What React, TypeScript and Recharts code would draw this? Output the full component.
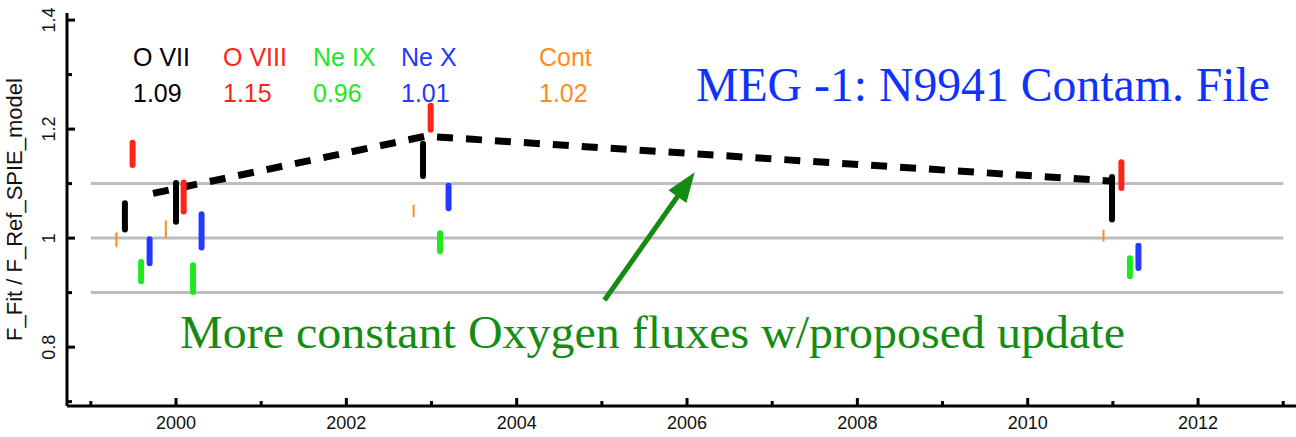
import { ComposedChart, Line, XAxis, YAxis, ReferenceLine } from 'recharts';

// axis ticks
const xTicks = [1999, 2000, 2001, 2002, 2003, 2004, 2005, 2006, 2007, 2008, 2009, 2010, 2011, 2012, 2013];
const yTicks = [0.7, 0.8, 0.9, 1.0, 1.1, 1.2, 1.3, 1.4];
const gridLevels = [0.9, 1.0, 1.1];

// measured ranges (year, low, high) per line
const oviiYear = [1999.4, 2000.0, 2002.9, 2010.99];
const oviiLo = [1.016, 1.030, 1.114, 1.034];
const oviiHi = [1.064, 1.101, 1.173, 1.112];

const oviiiYear = [1999.49, 2000.09, 2002.99, 2011.1];
const oviiiLo = [1.134, 1.049, 1.199, 1.092];
const oviiiHi = [1.175, 1.102, 1.243, 1.139];

const neixYear = [1999.59, 2000.2, 2003.1, 2011.2];
const neixLo = [0.921, 0.901, 0.976, 0.930];
const neixHi = [0.956, 0.950, 1.009, 0.963];

const nexYear = [1999.69, 2000.3, 2003.2, 2011.3];
const nexLo = [0.954, 0.983, 1.055, 0.945];
const nexHi = [0.998, 1.044, 1.096, 0.986];

const contYear = [1999.3, 1999.88, 2002.79, 2010.89];
const contLo = [0.985, 1.002, 1.040, 0.995];
const contHi = [1.009, 1.031, 1.060, 1.014];

// dashed trend through the O VII points
const trendYear = [1999.73, 2002.93, 2010.96];
const trendValue = [1.082, 1.187, 1.105];

// annotation arrow (tail -> tip)
const arrowYear = [2005.03, 2006.09];
const arrowValue = [0.886, 1.121];

const legendNames = ['O VII', 'O VIII', 'Ne IX', 'Ne X', 'Cont'];
const legendValues = ['1.09', '1.15', '0.96', '1.01', '1.02'];
const legendColors = ['#000000', '#ff2418', '#1fe81f', '#2438ff', '#ff8c1a'];
const legendX = [133, 223, 313, 401, 539];

const series = [
  { name: 'ovii', year: oviiYear, lo: oviiLo, hi: oviiHi, color: '#000000', width: 6 },
  { name: 'oviii', year: oviiiYear, lo: oviiiLo, hi: oviiiHi, color: '#ff2418', width: 6 },
  { name: 'neix', year: neixYear, lo: neixLo, hi: neixHi, color: '#1fe81f', width: 6 },
  { name: 'nex', year: nexYear, lo: nexLo, hi: nexHi, color: '#2438ff', width: 6 },
  { name: 'cont', year: contYear, lo: contLo, hi: contHi, color: '#ff8c1a', width: 2 },
];

const trend = trendYear.map((x, i) => ({ x, v: trendValue[i] }));

const sans = 'Liberation Sans, Arial, Helvetica, sans-serif';
const serif = 'Liberation Serif, Times New Roman, serif';

const XTick = (props: any) => {
  const { x, y, payload, top } = props;
  const major = Math.round(payload.value) % 2 === 0;
  const len = major ? 8 : 5;
  return (
    <g>
      <line x1={x} x2={x} y1={y} y2={top ? y + len : y - len} stroke="#000" strokeWidth={3} />
      {!top && major && (
        <text x={x} y={y + 23} textAnchor="middle" fontSize={18} fontFamily={sans} fill="#111">
          {payload.value}
        </text>
      )}
    </g>
  );
};

const YTick = (props: any) => {
  const { x, y, payload } = props;
  const n = Math.round(payload.value * 10);
  const major = n % 2 === 0;
  const len = major ? 8 : 5;
  const label = n === 10 ? '1' : (n / 10).toFixed(1);
  const lx = x - 12;
  return (
    <g>
      <line x1={x} x2={x + len} y1={y} y2={y} stroke="#000" strokeWidth={3} />
      {major && (
        <text x={lx} y={y} transform={`rotate(-90, ${lx}, ${y})`} textAnchor="middle" fontSize={18} fontFamily={sans} fill="#111">
          {label}
        </text>
      )}
    </g>
  );
};

const rangeShape = (color: string, width: number) => (p: any) => (
  <line x1={p.x1} y1={p.y1} x2={p.x2} y2={p.y2} stroke={color} strokeWidth={width} strokeLinecap="round" />
);

const arrowShape = (p: any) => {
  const { x1, y1, x2, y2 } = p;
  const dx = x2 - x1;
  const dy = y2 - y1;
  const d = Math.sqrt(dx * dx + dy * dy);
  const ux = dx / d;
  const uy = dy / d;
  const head = 30;
  const half = 11;
  const bx = x2 - ux * head;
  const by = y2 - uy * head;
  const pts = `${x2},${y2} ${bx - uy * half},${by + ux * half} ${bx + uy * half},${by - ux * half}`;
  return (
    <g>
      <line x1={x1} y1={y1} x2={bx + ux * 2} y2={by + uy * 2} stroke="#148c14" strokeWidth={5} />
      <polygon points={pts} fill="#148c14" />
    </g>
  );
};

export default function App() {
  return (
    <div style={{ position: 'absolute', left: 0, top: 0, width: 1296, height: 437, background: '#fff' }}>
      <ComposedChart width={1296} height={437} data={trend} margin={{ top: 13, right: 0, bottom: 0, left: 0 }}>
        <XAxis
          dataKey="x"
          type="number"
          domain={[1998.72, 2013.15]}
          allowDataOverflow
          ticks={xTicks}
          interval={0}
          height={31}
          tickSize={0}
          tickMargin={0}
          stroke="#000"
          strokeWidth={3}
          tick={<XTick />}
        />
        <XAxis
          xAxisId="top"
          orientation="top"
          dataKey="x"
          type="number"
          domain={[1998.72, 2013.15]}
          allowDataOverflow
          ticks={xTicks}
          interval={0}
          height={0}
          tickSize={0}
          tickMargin={0}
          stroke="#000"
          strokeWidth={3}
          tick={<XTick top />}
        />
        <YAxis
          type="number"
          domain={[0.692, 1.413]}
          allowDataOverflow
          ticks={yTicks}
          interval={0}
          width={67}
          tickSize={0}
          tickMargin={0}
          stroke="#000"
          strokeWidth={3}
          tick={<YTick />}
          label={{
            value: 'F_Fit / F_Ref_SPIE_model',
            angle: -90,
            position: 'insideLeft',
            dx: 9,
            style: { fontSize: 22, fontFamily: sans, fill: '#111', textAnchor: 'middle' },
          }}
        />
        {gridLevels.map((g) => (
          <ReferenceLine
            key={`g${g}`}
            segment={[{ x: 1999, y: g }, { x: 2013, y: g }]}
            stroke="#bdbdbd"
            strokeWidth={3}
            ifOverflow="visible"
          />
        ))}
        <Line
          dataKey="v"
          stroke="#000"
          strokeWidth={7}
          strokeDasharray="16 13"
          strokeLinejoin="miter"
          dot={false}
          activeDot={false}
          isAnimationActive={false}
        />
        {series.flatMap((s) =>
          s.year.map((yr, i) => (
            <ReferenceLine
              key={`${s.name}${i}`}
              segment={[{ x: yr, y: s.lo[i] }, { x: yr, y: s.hi[i] }]}
              ifOverflow="visible"
              shape={rangeShape(s.color, s.width)}
            />
          ))
        )}
        <ReferenceLine
          segment={[{ x: arrowYear[0], y: arrowValue[0] }, { x: arrowYear[1], y: arrowValue[1] }]}
          ifOverflow="visible"
          shape={arrowShape}
        />
      </ComposedChart>
      <svg width={1296} height={437} style={{ position: 'absolute', left: 0, top: 0, pointerEvents: 'none' }}>
        {legendNames.map((n, i) => (
          <text key={n} x={legendX[i]} y={66} fontSize={25} fontFamily={sans} fill={legendColors[i]}>
            {n}
          </text>
        ))}
        {legendValues.map((v, i) => (
          <text key={`v${i}`} x={legendX[i]} y={102} fontSize={25} fontFamily={sans} fill={legendColors[i]}>
            {v}
          </text>
        ))}
        <text x={696} y={101} fontSize={48} fontFamily={serif} fill="#0f32ff" textLength={574} lengthAdjust="spacingAndGlyphs">
          MEG -1: N9941 Contam. File
        </text>
        <text x={180} y={348} fontSize={46} fontFamily={serif} fill="#148c14" textLength={945} lengthAdjust="spacingAndGlyphs">
          More constant Oxygen fluxes w/proposed update
        </text>
      </svg>
    </div>
  );
}
